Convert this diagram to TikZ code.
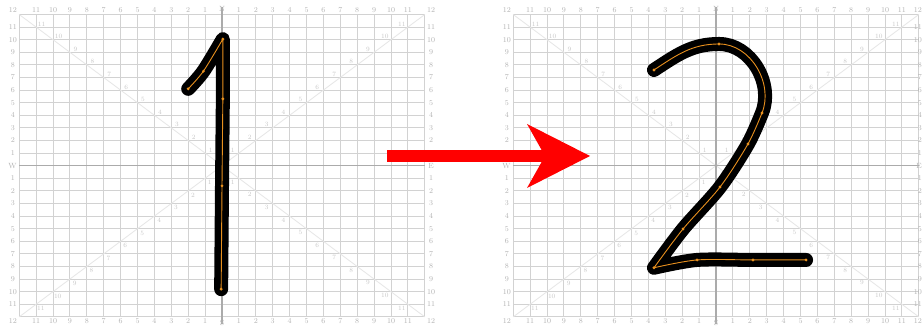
\documentclass[tikz,border=0pt]{standalone}
\usetikzlibrary{arrows.meta}

\definecolor{gridgray}{HTML}{D2D2D2}
\definecolor{axisgray}{HTML}{ABABAB}
\definecolor{diaggray}{HTML}{E6E6E6}
\definecolor{labelgray}{HTML}{B4B4B4}
\definecolor{penorange}{HTML}{E8901E}

\begin{document}
\begin{tikzpicture}[x=1pt, y=1pt,
  panel/.style={shift={(#1,165.3)}, x=16.9pt, y=12.6pt},
  gridline/.style={gridgray, line width=0.9pt},
  axisline/.style={axisgray, line width=1.1pt},
  diagline/.style={diaggray, line width=0.8pt},
  gridlabel/.style={labelgray, inner sep=0pt, font=\fontsize{7.5}{8}\selectfont},
  diaglabel/.style={labelgray!75, inner sep=0pt, font=\fontsize{6.5}{7}\selectfont},
  inkstroke/.style={black, line width=14pt, line cap=round, line join=round},
  penpath/.style={penorange, line width=0.9pt, line cap=round, line join=round},
  bigarrow/.style={red, line width=12pt,
    -{Stealth[length=63pt, width=64pt, inset=18pt, line width=0pt]}}
]
  \fill[white] (0,0) rectangle (922,331);
  \useasboundingbox (0,0) rectangle (922,331);

  % compass grids
  \foreach \cx/\pn/\rx/\ra in {222/L/12.37/center, 716/R/12.19/east} {
    \begin{scope}[panel=\cx]
      \foreach \i in {-12,...,12} {
        \draw[gridline] (\i,-12) -- (\i,12);
        \draw[gridline] (-12,\i) -- (12,\i);
      }
      \draw[diagline] (-12,-12) -- (12,12) (-12,12) -- (12,-12);
      \draw[axisline] (0,-12.6) -- (0,12.6) (-12,0) -- (12,0);
      \foreach \k in {1,...,11} {
        \node[gridlabel] (\pn-tl\k) at (-\k, 12.36) {\k};
        \node[gridlabel] (\pn-tr\k) at (\k, 12.36) {\k};
        \node[gridlabel] (\pn-bl\k) at (-\k,-12.36) {\k};
        \node[gridlabel] (\pn-br\k) at (\k,-12.36) {\k};
        \node[gridlabel] (\pn-lu\k) at (-12.37, \k) {\k};
        \node[gridlabel] (\pn-ld\k) at (-12.37,-\k) {\k};
        \node[gridlabel, anchor=\ra] (\pn-ru\k) at (\rx, \k) {\k};
        \node[gridlabel, anchor=\ra] (\pn-rd\k) at (\rx,-\k) {\k};
        % labels along the diagonals
        \node[diaglabel] (\pn-dtl\k) at (-\k+0.33, \k+0.25) {\k};
        \node[diaglabel] (\pn-dtr\k) at (\k-0.36, \k+0.25) {\k};
        \node[diaglabel] (\pn-dbl\k) at (-\k+0.28,-\k-0.35) {\k};
        \node[diaglabel] (\pn-dbr\k) at (\k-0.36,-\k-0.3) {\k};
      }
      \node[gridlabel] (\pn-ctl) at (-12.37, 12.36) {12};
      \node[gridlabel] (\pn-cbl) at (-12.37,-12.36) {12};
      \node[gridlabel, anchor=\ra] (\pn-ctr) at (\rx, 12.36) {12};
      \node[gridlabel, anchor=\ra] (\pn-cbr) at (\rx,-12.36) {12};
      \node[gridlabel] (\pn-north) at (0, 12.45) {N};
      \node[gridlabel] (\pn-south) at (0,-12.45) {S};
      \node[gridlabel] (\pn-west)  at (-12.4,0) {W};
      \node[gridlabel, anchor=\ra] (\pn-east) at (\rx,0) {E};
    \end{scope}
  }

  % digit one
  \begin{scope}[panel=222]
    \coordinate (one-a) at (-2.0,6.1);
    \coordinate (one-b) at (-1.1,7.5);
    \coordinate (one-c) at (0.05,10.05);
    \coordinate (one-d) at (0.05,5.3);
    \coordinate (one-e) at (0,-1.6);
    \coordinate (one-f) at (-0.05,-9.8);
    \draw[inkstroke] plot[smooth] coordinates {(one-a) (one-b) (one-c)}
      -- (one-d) -- (one-e) -- (one-f);
    \draw[penpath] plot[smooth] coordinates {(one-a) (one-b) (one-c)}
      -- (one-d) -- (one-e) -- (one-f);
    \foreach \p in {one-a,one-b,one-c,one-d,one-e,one-f}
      \fill[penorange] (\p) circle[radius=1.6pt];
  \end{scope}

  % digit two
  \begin{scope}[panel=716]
    \coordinate (two-a) at (-3.67,7.6);
    \coordinate (two-b) at (0.18,9.66);
    \coordinate (two-c) at (2.72,4.18);
    \coordinate (two-d) at (1.89,1.72);
    \coordinate (two-e) at (0.24,-1.69);
    \coordinate (two-f) at (-1.95,-5.02);
    \coordinate (two-g) at (-3.67,-8.1);
    \coordinate (two-h) at (-1.12,-7.48);
    \coordinate (two-i) at (2.19,-7.48);
    \coordinate (two-j) at (5.33,-7.48);
    \foreach \s in {inkstroke, penpath}
      \draw[\s] (two-a) to[out=33, in=180] (two-b) to[out=0, in=68] (two-c)
        plot[smooth] coordinates {(two-c) (two-d) (two-e) (two-f) (two-g)}
        plot[smooth] coordinates {(two-g) (two-h) (two-i) (two-j)};
    \foreach \p in {two-a,two-b,two-c,two-d,two-e,two-f,two-g,two-h,two-i,two-j}
      \fill[penorange] (\p) circle[radius=1.6pt];
  \end{scope}

  % red arrow between the panels
  \coordinate (arrowtail) at (387,175);
  \coordinate (arrowtip) at (590,175);
  \draw[bigarrow] (arrowtail) -- (arrowtip);
\end{tikzpicture}
\end{document}
